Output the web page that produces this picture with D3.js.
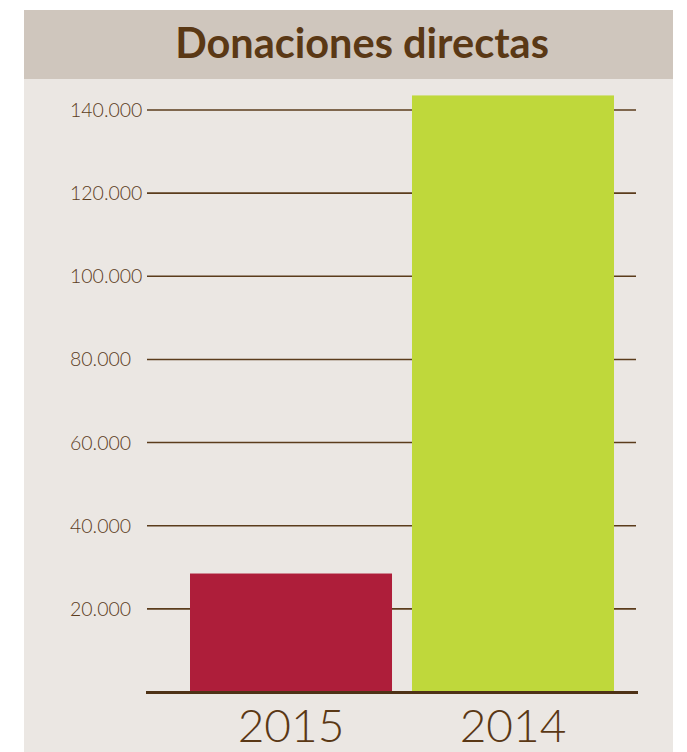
<!DOCTYPE html>
<html>
<head>
<meta charset="utf-8">
<script src="https://cdn.jsdelivr.net/npm/d3@7"></script>
<style>
  body { margin: 0; background: #fff; }
  svg { display: block; }
</style>
</head>
<body>
<div id="chart"></div>
<script>
// chart data
var years = ["2015", "2014"];
var donations = [28500, 143500];
var tickValues = [20000, 40000, 60000, 80000, 100000, 120000, 140000];
var title = "Donaciones directas";

var width = 687, height = 752;
var brown = "#5b3c1c";

var svg = d3.select("#chart").append("svg")
  .attr("width", width)
  .attr("height", height);

// panel background + title band
svg.append("rect").attr("x", 24).attr("y", 10).attr("width", 649).attr("height", height - 10).attr("fill", "#ebe7e3");
svg.append("rect").attr("x", 24).attr("y", 10).attr("width", 649).attr("height", 69).attr("fill", "#cfc6bd");
svg.append("text")
  .attr("x", 362).attr("y", 58)
  .attr("text-anchor", "middle")
  .attr("font-family", "Lato, sans-serif")
  .attr("font-weight", "bold")
  .attr("font-size", 41.5)
  .attr("fill", "#5a3815")
  .text(title);

var y = d3.scaleLinear().domain([0, 140000]).range([692, 110]);
var x = d3.scaleBand().domain(years).range([190, 614]).paddingInner(0.09).paddingOuter(0);

var fmt = d3.formatLocale({decimal: ",", thousands: ".", grouping: [3], currency: ["", ""]}).format(",");

// grid lines and labels
var grid = svg.append("g");
grid.selectAll("line").data(tickValues).enter().append("line")
  .attr("x1", 147).attr("x2", 636)
  .attr("y1", function (d) { return y(d); })
  .attr("y2", function (d) { return y(d); })
  .attr("stroke", brown)
  .attr("stroke-width", 1.6);
grid.selectAll("text").data(tickValues).enter().append("text")
  .attr("x", 70)
  .attr("y", function (d) { return y(d) + 7; })
  .attr("font-family", "Lato, sans-serif")
  .attr("font-weight", 300)
  .attr("font-size", 19.5)
  .attr("fill", brown)
  .text(function (d) { return fmt(d); });

// bars
svg.selectAll(".bar").data(years).enter().append("rect")
  .attr("class", "bar")
  .attr("x", function (d) { return x(d); })
  .attr("width", x.bandwidth())
  .attr("y", function (d, i) { return y(donations[i]); })
  .attr("height", function (d, i) { return y(0) - y(donations[i]); })
  .attr("fill", function (d, i) { return i === 0 ? "#ae1e3a" : "#bfd83b"; });

// baseline
svg.append("line")
  .attr("x1", 146).attr("x2", 638)
  .attr("y1", y(0) + 0.5).attr("y2", y(0) + 0.5)
  .attr("stroke", "#4e3216")
  .attr("stroke-width", 3);

// year labels
svg.selectAll(".year").data(years).enter().append("text")
  .attr("class", "year")
  .attr("x", function (d) { return x(d) + x.bandwidth() / 2; })
  .attr("y", 742)
  .attr("text-anchor", "middle")
  .attr("font-family", "Lato, sans-serif")
  .attr("font-weight", 300)
  .attr("font-size", 46)
  .attr("fill", "#5a3815")
  .text(function (d) { return d; });
</script>
</body>
</html>
